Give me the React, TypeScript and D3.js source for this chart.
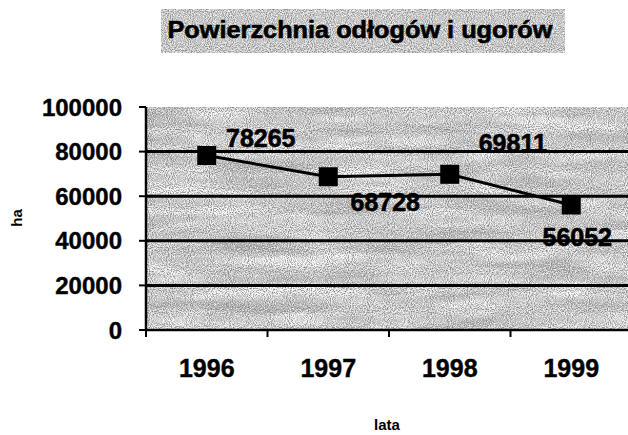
import * as d3 from "d3";

const years = ["1996", "1997", "1998", "1999"];
const area = [78265, 68728, 69811, 56052];
const yTicks = [0, 20000, 40000, 60000, 80000, 100000];
const title = "Powierzchnia odłogów i ugorów";
const yTitle = "ha";
const xTitle = "lata";

// where each value label sits relative to its marker
const labelOffsets: [number, number][] = [
  [54, -17],
  [57, 25],
  [63, -31],
  [6, 32],
];

const W = 628;
const H = 435;
const font = "'Liberation Sans', Arial, sans-serif";

export default function App() {
  const plot = { left: 146, right: 632, top: 107, bottom: 330 };

  const x = d3
    .scaleBand<string>()
    .domain(years)
    .range([plot.left, plot.right]);
  const y = d3.scaleLinear().domain([0, 100000]).range([plot.bottom, plot.top]);

  const pts = years.map((yr, i) => ({
    cx: (x(yr) ?? 0) + x.bandwidth() / 2,
    cy: y(area[i]),
    v: area[i],
  }));

  const line = d3
    .line<{ cx: number; cy: number }>()
    .x((d) => d.cx)
    .y((d) => d.cy);

  // tick marks on the x axis sit on the band edges
  const xTickPos = years.map((yr) => x(yr) ?? 0);

  const bg = { x: plot.left, y: plot.top, width: W - plot.left, height: plot.bottom - plot.top };
  const tb = { x: 161, y: 9, width: 404, height: 44 };

  return (
    <svg
      width={W}
      height={H}
      style={{ position: "absolute", left: 0, top: 0, background: "#fff" }}
      fontFamily={font}
      fontWeight="bold"
    >
      <defs>
        {/* scanned-paper look: light grey with sparse dark speckles and soft streaks */}
        <filter id="speck" x="0" y="0" width="100%" height="100%">
          <feTurbulence type="fractalNoise" baseFrequency="0.95" numOctaves="1" seed="3" />
          <feColorMatrix
            type="matrix"
            values="0 0 0 0 0.2  0 0 0 0 0.2  0 0 0 0 0.2  2.6 0 0 0 -1.05"
          />
        </filter>
        <filter id="streak" x="0" y="0" width="100%" height="100%">
          <feTurbulence type="fractalNoise" baseFrequency="0.01 0.07" numOctaves="3" seed="11" />
          <feColorMatrix
            type="matrix"
            values="0 0 0 0 0.4  0 0 0 0 0.4  0 0 0 0 0.4  2.4 0 0 0 -1.1"
          />
        </filter>
        <filter id="light" x="0" y="0" width="100%" height="100%">
          <feTurbulence type="fractalNoise" baseFrequency="0.012 0.06" numOctaves="3" seed="5" />
          <feColorMatrix
            type="matrix"
            values="0 0 0 0 1  0 0 0 0 1  0 0 0 0 1  3.2 0 0 0 -1.3"
          />
        </filter>
        <filter id="white" x="0" y="0" width="100%" height="100%">
          <feTurbulence type="fractalNoise" baseFrequency="0.85" numOctaves="1" seed="8" />
          <feColorMatrix
            type="matrix"
            values="0 0 0 0 1  0 0 0 0 1  0 0 0 0 1  3.0 0 0 0 -1.25"
          />
        </filter>
      </defs>

      {/* title box */}
      <g>
        <rect {...tb} fill="#d6d6d6" />
        <rect {...tb} filter="url(#white)" />
        <rect {...tb} filter="url(#speck)" />
      </g>
      <text
        x={360}
        y={30}
        dy="0.36em"
        textAnchor="middle"
        fontSize={23}
        textLength={385}
        lengthAdjust="spacingAndGlyphs"
        fill="#000"
        stroke="#000"
        strokeWidth={0.6}
      >
        {title}
      </text>

      {/* plot background */}
      <g>
        <rect {...bg} fill="#d6d6d6" />
        <rect {...bg} filter="url(#light)" />
        <rect {...bg} filter="url(#streak)" />
        <rect {...bg} filter="url(#white)" />
        <rect {...bg} filter="url(#speck)" />
      </g>

      {/* gridlines */}
      {yTicks.slice(1, -1).map((t) => (
        <line key={t} x1={plot.left} x2={W} y1={y(t)} y2={y(t)} stroke="#000" strokeWidth={3} />
      ))}

      {/* axes */}
      <line x1={plot.left} x2={plot.left} y1={plot.top} y2={plot.bottom} stroke="#000" strokeWidth={2.5} />
      <line x1={plot.left - 1} x2={W} y1={plot.bottom} y2={plot.bottom} stroke="#000" strokeWidth={2.5} />
      {yTicks.map((t) => (
        <g key={t}>
          <line x1={plot.left - 7} x2={plot.left} y1={y(t)} y2={y(t)} stroke="#000" strokeWidth={2} />
          <text x={122} y={y(t)} dy="0.36em" textAnchor="end" fontSize={24} fill="#000" stroke="#000" strokeWidth={0.4}>
            {t}
          </text>
        </g>
      ))}
      {xTickPos.map((p, i) => (
        <line key={i} x1={p} x2={p} y1={plot.bottom} y2={plot.bottom + 7} stroke="#000" strokeWidth={2} />
      ))}
      {pts.map((p, i) => (
        <text key={i} x={p.cx} y={368} dy="0.36em" textAnchor="middle" fontSize={25} fill="#000" stroke="#000" strokeWidth={0.4}>
          {years[i]}
        </text>
      ))}

      <text
        transform={`translate(17,218) rotate(-90)`}
        textAnchor="middle"
        dy="0.36em"
        fontSize={15}
        fill="#000"
      >
        {yTitle}
      </text>
      <text x={387} y={430} textAnchor="middle" fontSize={15} fill="#000">
        {xTitle}
      </text>

      {/* series */}
      <path d={line(pts) ?? ""} fill="none" stroke="#000" strokeWidth={3} />
      {pts.map((p, i) => (
        <rect key={i} x={p.cx - 9.5} y={p.cy - 9.5} width={19} height={19} fill="#000" />
      ))}
      {pts.map((p, i) => (
        <text
          key={i}
          x={p.cx + labelOffsets[i][0]}
          y={p.cy + labelOffsets[i][1]}
          dy="0.36em"
          textAnchor="middle"
          fontSize={25}
          fill="#000"
          stroke="#000"
          strokeWidth={0.6}
        >
          {p.v}
        </text>
      ))}
    </svg>
  );
}
